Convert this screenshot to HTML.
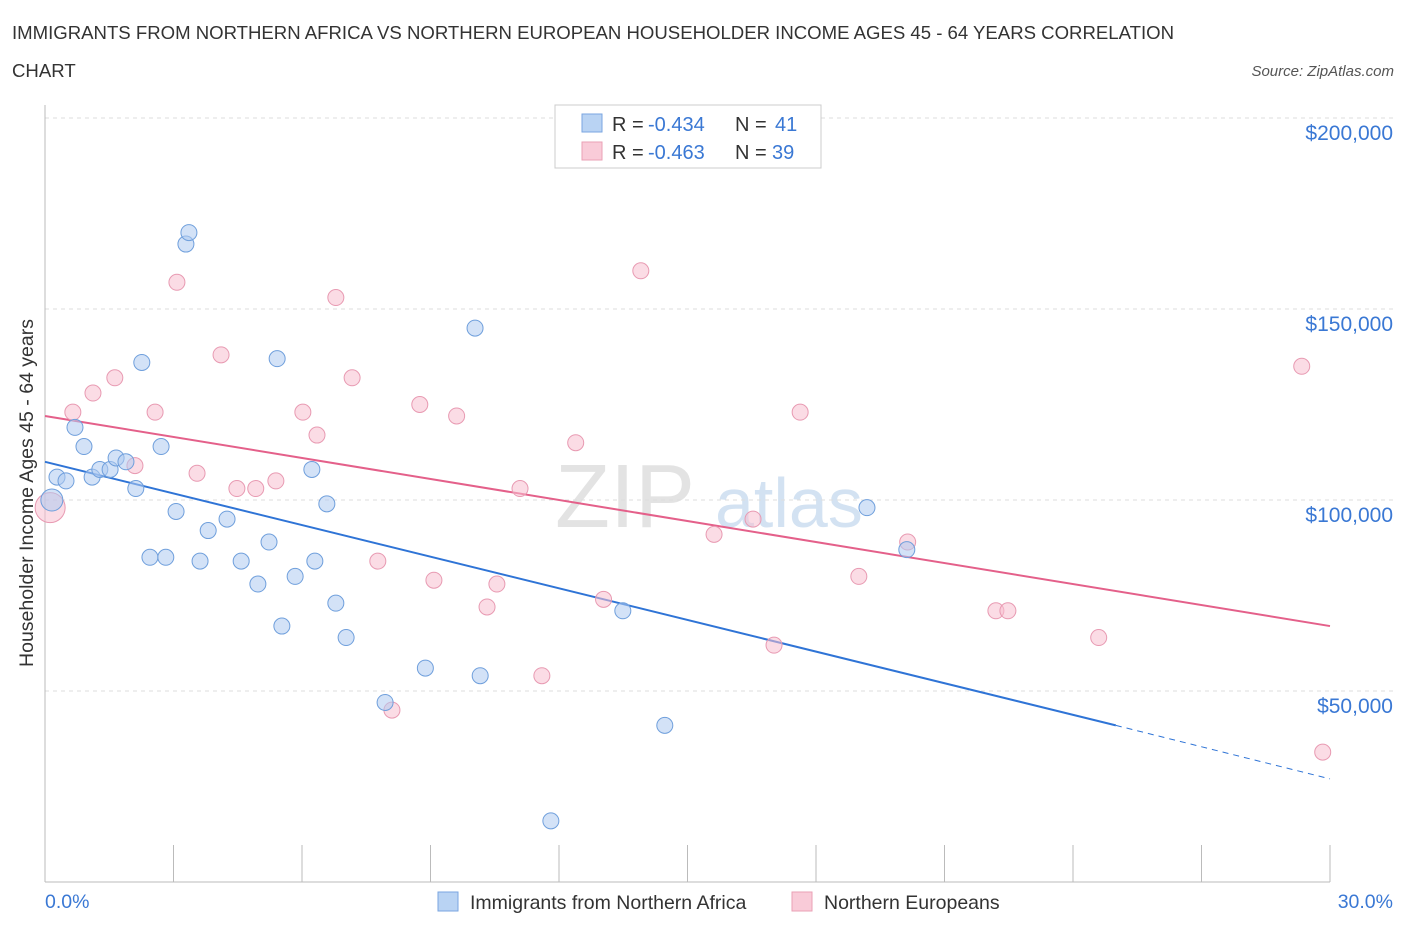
<!DOCTYPE html>
<html><head><meta charset="utf-8"><style>
body{margin:0;background:#fff;font-family:"Liberation Sans",sans-serif;}
svg text{font-family:"Liberation Sans",sans-serif;}
</style></head><body>
<svg id="chart" width="1406" height="930" xmlns="http://www.w3.org/2000/svg">
<text x="12" y="39" font-size="18.6" fill="#333" textLength="1162">IMMIGRANTS FROM NORTHERN AFRICA VS NORTHERN EUROPEAN HOUSEHOLDER INCOME AGES 45 - 64 YEARS CORRELATION</text>
<text x="12" y="77" font-size="18.6" fill="#333">CHART</text>
<text x="1394" y="76" font-size="15" fill="#555" text-anchor="end" font-style="italic">Source: ZipAtlas.com</text>
<text x="555" y="527" font-size="90" fill="#ddd" font-family="Liberation Serif" opacity="0.8">ZIP</text>
<text x="715" y="527" font-size="70" fill="#c9dcef" opacity="0.8">atlas</text>
<g id="grid"></g>
<g id="axes"></g>
<g id="lines"></g>
<g id="pts"></g>
<text transform="translate(33,493) rotate(-90)" font-size="19.5" fill="#333" text-anchor="middle">Householder Income Ages 45 - 64 years</text>
<text x="45" y="908" font-size="19.5" fill="#3a78d4">0.0%</text>
<text x="1393" y="908" font-size="19.5" fill="#3a78d4" text-anchor="end">30.0%</text>
<g>
<rect x="555" y="105" width="266" height="63" fill="#fff" stroke="#ccc"/>
<rect x="582" y="114" width="20" height="18" fill="#b9d3f3" stroke="#7aa6e0"/>
<rect x="582" y="142" width="20" height="18" fill="#f9cbd8" stroke="#eaa0b6"/>
<text x="612" y="131" font-size="20" fill="#333">R =</text>
<text x="648" y="131" font-size="20" fill="#3a78d4">-0.434</text>
<text x="735" y="131" font-size="20" fill="#333">N =</text>
<text x="775" y="131" font-size="20" fill="#3a78d4">41</text>
<text x="612" y="159" font-size="20" fill="#333">R =</text>
<text x="648" y="159" font-size="20" fill="#3a78d4">-0.463</text>
<text x="735" y="159" font-size="20" fill="#333">N =</text>
<text x="772" y="159" font-size="20" fill="#3a78d4">39</text>
</g>
<g>
<rect x="438" y="892" width="20" height="19" fill="#b9d3f3" stroke="#7aa6e0"/>
<text x="470" y="909" font-size="19.5" fill="#333">Immigrants from Northern Africa</text>
<rect x="792" y="892" width="20" height="19" fill="#f9cbd8" stroke="#eaa0b6"/>
<text x="824" y="909" font-size="19.5" fill="#333">Northern Europeans</text>
</g>
</svg>
<script>
const yTicks=[50000,100000,150000,200000];
const yTickLabels=["$50,000","$100,000","$150,000","$200,000"];
const blueX=[0.16,0.28,0.49,0.7,0.91,1.1,1.28,1.52,1.66,1.89,2.12,2.26,2.45,2.71,2.82,3.06,3.29,3.36,3.62,3.81,4.25,4.58,4.97,5.23,5.42,5.53,5.84,6.23,6.30,6.58,6.79,7.03,7.94,8.88,10.04,10.16,11.81,13.49,14.47,19.19,20.12];
const blueY=[100000,106000,105000,119000,114000,106000,108000,108000,111000,110000,103000,136000,85000,114000,85000,97000,167000,170000,84000,92000,95000,84000,78000,89000,137000,67000,80000,108000,84000,99000,73000,64000,47000,56000,145000,54000,16000,71000,41000,98000,87000];
const pinkX=[0.12,0.65,1.12,1.63,2.10,2.57,3.08,3.55,4.11,4.48,4.92,5.39,6.02,6.35,6.79,7.17,7.77,8.10,8.75,9.08,9.61,10.32,10.55,11.09,11.60,12.39,13.04,13.91,15.62,16.53,17.02,17.63,19.00,20.14,22.20,22.48,24.60,29.34,29.83];
const pinkY=[98000,123000,128000,132000,109000,123000,157000,107000,138000,103000,103000,105000,123000,117000,153000,132000,84000,45000,125000,79000,122000,72000,78000,103000,54000,115000,74000,160000,91000,95000,62000,123000,80000,89000,71000,71000,64000,135000,34000];
const blueTrend=[[0,110000],[25,41000],[30,27000]];
const pinkTrend=[[0,122000],[30,67000]];
const X=v=>45+v/30*1285, Y=v=>882-v/50000*191;
const NS="http://www.w3.org/2000/svg";
function mk(p,t,a){const e=document.createElementNS(NS,t);for(const k in a)e.setAttribute(k,a[k]);document.getElementById(p).appendChild(e);return e;}
yTicks.forEach((t,i)=>{
 const l=mk('grid','line',{x1:45,x2:1393,y1:Y(t),y2:Y(t),stroke:'#ddd','stroke-dasharray':'4,4'});
 
 
 const tx=mk('grid','text',{x:1393,y:Y(t)+22,'font-size':21,fill:'#3a78d4','text-anchor':'end'});
 tx.textContent=yTickLabels[i];
 
 
});
const ax=mk('axes','line',{x1:45,x2:45,y1:105,y2:882,stroke:'#bbb'});


const bx=mk('axes','line',{x1:45,x2:1330,y1:882,y2:882,stroke:'#bbb'});


for(let i=0;i<=10;i++){const t=mk('axes','line',{x1:X(i*3),x2:X(i*3),y1:845,y2:882,stroke:'#bbb'});
 
 }
function pts(xs,ys,fill,stroke,name){xs.forEach((x,i)=>{const r=i===0?(name==='pink-point'?15:11):8;
 const c=mk('pts','circle',{cx:X(x),cy:Y(ys[i]),r:r,fill:fill,stroke:stroke,'stroke-width':1,'fill-opacity':0.55});
 
 });}
pts(pinkX,pinkY,'#f7bfd0','#e89ab2','pink-point');
pts(blueX,blueY,'#aecaf0','#6f9fdc','blue-point');
let l1=mk('lines','line',{x1:X(blueTrend[0][0]),y1:Y(blueTrend[0][1]),x2:X(blueTrend[1][0]),y2:Y(blueTrend[1][1]),stroke:'#2f74d6','stroke-width':2});


let l2=mk('lines','line',{x1:X(blueTrend[1][0]),y1:Y(blueTrend[1][1]),x2:X(blueTrend[2][0]),y2:Y(blueTrend[2][1]),stroke:'#2f74d6','stroke-width':1,'stroke-dasharray':'6,5'});


let l3=mk('lines','line',{x1:X(pinkTrend[0][0]),y1:Y(pinkTrend[0][1]),x2:X(pinkTrend[1][0]),y2:Y(pinkTrend[1][1]),stroke:'#e4608a','stroke-width':2});


</script>
</body></html>
